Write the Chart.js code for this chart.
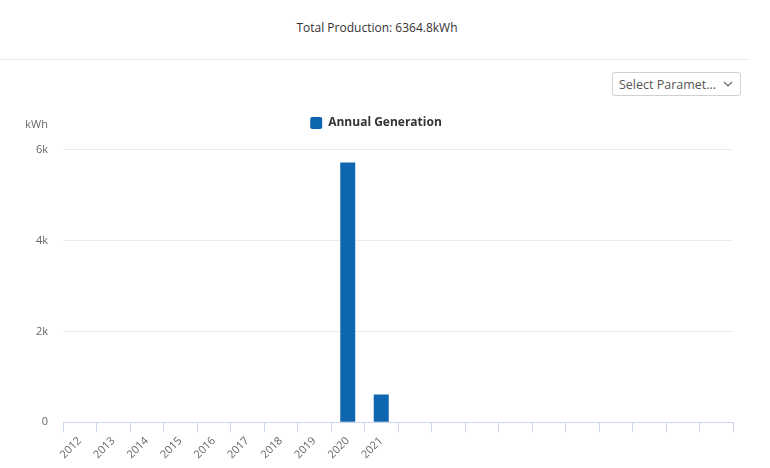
<!DOCTYPE html>
<html>
<head>
<meta charset="utf-8">
<script src="https://cdn.jsdelivr.net/npm/chart.js@4.4.1/dist/chart.umd.min.js"></script>
<style>
  html, body { margin:0; padding:0; background:#fff; width:770px; height:468px; overflow:hidden; font-family:"Open Sans", "Noto Sans", sans-serif; }
  #title { position:absolute; left:0; width:754px; top:19px; text-align:center; font-size:12px; color:#333; }
  #rule { position:absolute; left:0; top:59px; width:749px; height:1px; background:#e8e8e8; }
  #sel { position:absolute; left:612px; top:72px; width:127px; height:22px; border:1px solid #d0d0d0; border-radius:3px; box-sizing:content-box; font-size:12.5px; color:#555; }
  #sel span { position:absolute; left:6px; top:3px; }
  #sel svg { position:absolute; right:7px; top:8px; }
  #wrap { position:absolute; left:0; top:100px; width:770px; height:368px; }
</style>
</head>
<body>
<div id="title">Total Production: 6364.8kWh</div>
<div id="rule"></div>
<div id="sel"><span>Select Paramet...</span><svg width="10" height="6" viewBox="0 0 10 6"><path d="M1 1 L5 5 L9 1" fill="none" stroke="#666" stroke-width="1.2"/></svg></div>
<div id="wrap"><canvas id="c" width="770" height="368"></canvas></div>
<script>
const categories = ['2012','2013','2014','2015','2016','2017','2018','2019','2020','2021','','','','','','','','','',''];
const annualGeneration = [0,0,0,0,0,0,0,0,5715,610,null,null,null,null,null,null,null,null,null,null];
const yTicks = [0,2000,4000,6000];
const seriesName = 'Annual Generation';
const unitLabel = 'kWh';

const unitPlugin = {
  id:'unitLabel',
  afterDraw(chart){
    const ctx = chart.ctx; const a = chart.chartArea;
    ctx.save();
    ctx.font = '11px "Open Sans", "Noto Sans", sans-serif';
    ctx.fillStyle = '#666';
    ctx.textAlign = 'right';
    ctx.textBaseline = 'middle';
    ctx.fillText(unitLabel, a.left - 15, 25);
    ctx.restore();
  }
};

const legendGap = {
  id:'legendGap',
  beforeInit(chart){
    const origFit = chart.legend.fit;
    chart.legend.fit = function(){ origFit.call(this); this.height += 10.5; };
  }
};

new Chart(document.getElementById('c'), {
  type:'bar',
  data:{ labels:categories, datasets:[{ label:seriesName, data:annualGeneration, backgroundColor:'#0f66b0', borderWidth:0, maxBarThickness:15 }]},
  options:{
    responsive:false, animation:false,
    layout:{ padding:{ left:19, right:37, top:7, bottom:0 } },
    plugins:{
      legend:{ display:true, position:'top',
        labels:{ padding:10, boxWidth:12, boxHeight:12, useBorderRadius:true, borderRadius:2, color:'#333', font:{ size:12, weight:'bold', family:'"Open Sans", "Noto Sans", sans-serif' } } },
      tooltip:{ enabled:false }
    },
    scales:{
      x:{ offset:true,
        grid:{ offset:true, drawOnChartArea:false, drawTicks:true, tickLength:10, color:'#ccd6eb' },
        border:{ color:'#ccd6eb' },
        ticks:{ autoSkip:false, maxRotation:45, minRotation:45, color:'#666', padding:2, font:{ size:11, family:'"Open Sans", "Noto Sans", sans-serif' } },
        afterFit(s){ s.height = 45.7; }
      },
      y:{ min:0, max:6000,
        afterBuildTicks(s){ s.ticks = yTicks.map(v=>({value:v})); },
        grid:{ color:'#ececec', drawTicks:false },
        border:{ display:false },
        ticks:{ color:'#666', padding:15, font:{ size:11, family:'"Open Sans", "Noto Sans", sans-serif' },
          callback(v){ return v===0 ? '0' : (v/1000)+'k'; } },
        afterFit(s){ s.width = 44; }
      }
    }
  },
  plugins:[unitPlugin, legendGap]
});
</script>
</body>
</html>
